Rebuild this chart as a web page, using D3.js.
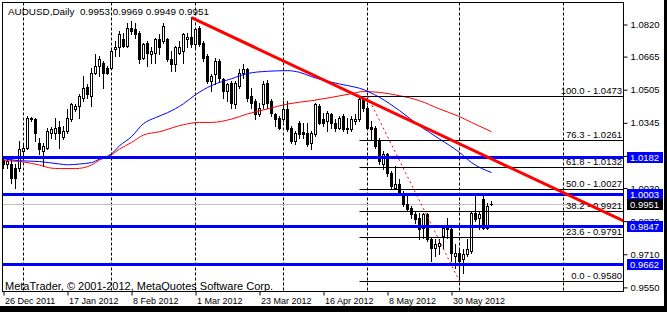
<!DOCTYPE html>
<html>
<head>
<meta charset="utf-8">
<script src="https://cdn.jsdelivr.net/npm/d3@7"></script>
<style>
  html, body { margin: 0; padding: 0; background: #fff; }
  svg { display: block; font-family: "Liberation Sans", Arial, sans-serif; }
</style>
</head>
<body>
<div id="chart"></div>
<script>
// AUDUSD daily bars, 26 Dec 2011 .. 13 Jun 2012 (bar index 0..122)
const opens = [
  1.0166, 1.0147, 1.0147, 1.0128, 1.0128, 1.0210, 1.0225, 1.0365, 1.0365, 1.0249,
  1.0210, 1.0225, 1.0297, 1.0297, 1.0326, 1.0278, 1.0307, 1.0365, 1.0413, 1.0428,
  1.0467, 1.0520, 1.0476, 1.0588, 1.0621, 1.0636, 1.0612, 1.0612, 1.0704, 1.0709,
  1.0752, 1.0718, 1.0805, 1.0800, 1.0781, 1.0660, 1.0733, 1.0679, 1.0684, 1.0752,
  1.0742, 1.0752, 1.0655, 1.0631, 1.0684, 1.0694, 1.0752, 1.0762, 1.0728, 1.0805,
  1.0733, 1.0670, 1.0549, 1.0583, 1.0646, 1.0558, 1.0500, 1.0539, 1.0437, 1.0525,
  1.0588, 1.0607, 1.0476, 1.0452, 1.0389, 1.0437, 1.0539, 1.0452, 1.0389, 1.0370,
  1.0365, 1.0413, 1.0321, 1.0258, 1.0346, 1.0302, 1.0297, 1.0249, 1.0292, 1.0428,
  1.0365, 1.0355, 1.0389, 1.0346, 1.0321, 1.0379, 1.0321, 1.0316, 1.0355, 1.0365,
  1.0462, 1.0418, 1.0326, 1.0321, 1.0258, 1.0147, 1.0195, 1.0104, 1.0031, 1.0050,
  1.0002, 0.9954, 0.9934, 0.9905, 0.9886, 0.9837, 0.9905, 0.9784, 0.9741, 0.9750,
  0.9799, 0.9837, 0.9833, 0.9702, 0.9716, 0.9687, 0.9712, 0.9726, 0.9910, 0.9886,
  0.9978, 0.9837, 0.9953
];
const highs = [
  1.0176, 1.0171, 1.0186, 1.0147, 1.0258, 1.0249, 1.0379, 1.0375, 1.0370, 1.0273,
  1.0249, 1.0321, 1.0326, 1.0370, 1.0355, 1.0331, 1.0413, 1.0442, 1.0437, 1.0486,
  1.0573, 1.0534, 1.0612, 1.0679, 1.0670, 1.0646, 1.0621, 1.0704, 1.0742, 1.0791,
  1.0781, 1.0825, 1.0839, 1.0825, 1.0791, 1.0733, 1.0742, 1.0709, 1.0757, 1.0776,
  1.0825, 1.0757, 1.0694, 1.0718, 1.0742, 1.0781, 1.0781, 1.0854, 1.0805, 1.0815,
  1.0742, 1.0679, 1.0583, 1.0660, 1.0655, 1.0563, 1.0539, 1.0549, 1.0549, 1.0607,
  1.0631, 1.0612, 1.0515, 1.0462, 1.0442, 1.0549, 1.0554, 1.0462, 1.0394, 1.0379,
  1.0452, 1.0452, 1.0331, 1.0307, 1.0355, 1.0346, 1.0346, 1.0307, 1.0442, 1.0437,
  1.0394, 1.0404, 1.0394, 1.0365, 1.0379, 1.0389, 1.0370, 1.0379, 1.0389, 1.0476,
  1.0467, 1.0428, 1.0355, 1.0331, 1.0273, 1.0210, 1.0200, 1.0113, 1.0137, 1.0074,
  1.0016, 1.0002, 0.9944, 0.9920, 0.9910, 0.9910, 0.9910, 0.9789, 0.9784, 0.9784,
  0.9847, 0.9886, 0.9837, 0.9760, 0.9736, 0.9736, 0.9784, 0.9920, 1.0002, 0.9920,
  0.9992, 0.9958, 0.9969
];
const lows = [
  1.0128, 1.0128, 1.0055, 1.0031, 1.0113, 1.0176, 1.0220, 1.0355, 1.0258, 1.0195,
  1.0137, 1.0220, 1.0273, 1.0268, 1.0225, 1.0268, 1.0297, 1.0355, 1.0404, 1.0370,
  1.0452, 1.0467, 1.0428, 1.0583, 1.0573, 1.0515, 1.0583, 1.0608, 1.0670, 1.0670,
  1.0709, 1.0709, 1.0776, 1.0757, 1.0636, 1.0655, 1.0621, 1.0636, 1.0636, 1.0679,
  1.0733, 1.0646, 1.0597, 1.0597, 1.0679, 1.0636, 1.0709, 1.0709, 1.0709, 1.0718,
  1.0646, 1.0539, 1.0500, 1.0534, 1.0549, 1.0467, 1.0452, 1.0418, 1.0418, 1.0515,
  1.0563, 1.0452, 1.0418, 1.0365, 1.0379, 1.0418, 1.0418, 1.0379, 1.0331, 1.0316,
  1.0355, 1.0307, 1.0249, 1.0244, 1.0273, 1.0273, 1.0234, 1.0220, 1.0283, 1.0341,
  1.0331, 1.0307, 1.0321, 1.0307, 1.0316, 1.0307, 1.0297, 1.0307, 1.0341, 1.0355,
  1.0404, 1.0316, 1.0268, 1.0225, 1.0147, 1.0123, 1.0089, 1.0031, 1.0026, 1.0002,
  0.9944, 0.9920, 0.9886, 0.9862, 0.9784, 0.9789, 0.9774, 0.9678, 0.9702, 0.9712,
  0.9741, 0.9789, 0.9678, 0.9644, 0.9580, 0.9620, 0.9702, 0.9716, 0.9871, 0.9833,
  0.9833, 0.9833, 0.9949
];
const closes = [
  1.0147, 1.0162, 1.0079, 1.0079, 1.0220, 1.0225, 1.0370, 1.0370, 1.0297, 1.0220,
  1.0234, 1.0307, 1.0316, 1.0321, 1.0297, 1.0307, 1.0370, 1.0437, 1.0428, 1.0476,
  1.0515, 1.0486, 1.0588, 1.0621, 1.0655, 1.0588, 1.0588, 1.0694, 1.0709, 1.0776,
  1.0718, 1.0805, 1.0791, 1.0776, 1.0655, 1.0728, 1.0684, 1.0694, 1.0752, 1.0709,
  1.0815, 1.0655, 1.0631, 1.0709, 1.0709, 1.0776, 1.0762, 1.0728, 1.0800, 1.0728,
  1.0660, 1.0549, 1.0573, 1.0646, 1.0563, 1.0500, 1.0534, 1.0442, 1.0539, 1.0588,
  1.0607, 1.0467, 1.0442, 1.0389, 1.0418, 1.0534, 1.0442, 1.0394, 1.0365, 1.0321,
  1.0413, 1.0316, 1.0258, 1.0297, 1.0292, 1.0292, 1.0244, 1.0297, 1.0437, 1.0346,
  1.0346, 1.0394, 1.0346, 1.0321, 1.0370, 1.0316, 1.0316, 1.0365, 1.0365, 1.0462,
  1.0418, 1.0321, 1.0316, 1.0234, 1.0162, 1.0195, 1.0104, 1.0041, 1.0050, 1.0007,
  0.9954, 0.9929, 0.9905, 0.9881, 0.9833, 0.9905, 0.9784, 0.9741, 0.9760, 0.9765,
  0.9837, 0.9833, 0.9716, 0.9716, 0.9678, 0.9712, 0.9736, 0.9910, 0.9881, 0.9905,
  0.9837, 0.9944, 0.9951
];

// moving averages (bar index, price)
const maBlueBars = [0, 4, 9, 14, 16, 19, 22, 24, 27, 29, 32, 35, 38, 41, 45, 48, 52, 57, 61, 66, 71, 74, 77, 82, 86, 89, 94, 99, 104, 109, 114, 117, 122];
const maBlueVals = [1.0171, 1.0162, 1.0158, 1.0146, 1.0142, 1.0146, 1.0153, 1.0170, 1.0195, 1.0234, 1.0278, 1.0341, 1.0370, 1.0394, 1.0437, 1.0481, 1.0525, 1.0558, 1.0583, 1.0594, 1.0597, 1.0589, 1.0568, 1.0541, 1.0525, 1.0512, 1.0468, 1.0404, 1.0331, 1.0267, 1.0202, 1.0153, 1.0105];
const maRedBars = [0, 4, 7, 9, 12, 14, 18, 22, 24, 27, 29, 32, 35, 39, 45, 49, 52, 57, 61, 66, 71, 77, 82, 87, 90, 94, 99, 104, 109, 114, 117, 122];
const maRedVals = [1.0162, 1.0158, 1.0149, 1.0141, 1.0126, 1.0124, 1.0124, 1.0141, 1.0165, 1.0191, 1.0218, 1.0250, 1.0286, 1.0302, 1.0336, 1.0347, 1.0347, 1.0363, 1.0388, 1.0412, 1.0436, 1.0452, 1.0468, 1.0486, 1.0496, 1.0492, 1.0476, 1.0452, 1.0412, 1.0375, 1.0347, 1.0302];

// axes
const priceTicks = ["1.0820", "1.0665", "1.0505", "1.0345", "1.0185", "1.0030", "0.9870", "0.9710", "0.9550"];
const dateTickBars = [0, 16, 32, 48, 64, 80, 96, 112];
const dateTickLabels = ["26 Dec 2011", "17 Jan 2012", "8 Feb 2012", "1 Mar 2012", "23 Mar 2012", "16 Apr 2012", "8 May 2012", "30 May 2012"];
const separatorBars = [5, 27, 48, 70, 91, 114, 140];

// drawn objects
const levelPrices = [1.0182, 1.0003, 0.9847, 0.9662];
const bidPrice = 0.9951;
const trendBars = [47, 90];
const trendPrices = [1.0853, 1.0462];
const fibBars = [91, 114];
const fibLeftBar = 89;
const fibLevels = ["100.0", "76.3", "61.8", "50.0", "38.2", "23.6", "0.0"];
const fibPrices = [1.0473, 1.0261, 1.0132, 1.0027, 0.9921, 0.9791, 0.9580];
const title = "AUDUSD,Daily  0.9953 0.9969 0.9949 0.9951";
const copyright = "MetaTrader, \u00a9 2001-2012, MetaQuotes Software Corp.";

const W = 667, H = 312;
const plot = { left: 2.5, top: 2.5, right: 623.5, bottom: 291.5 };

const svg = d3.select("#chart").append("svg")
    .attr("width", W)
    .attr("height", H);

svg.append("rect").attr("width", W).attr("height", H).attr("fill", "#fff");
// dark window edges
svg.append("rect").attr("x", 0).attr("y", 306).attr("width", W).attr("height", H - 306).attr("fill", "#000");
svg.append("rect").attr("x", 664).attr("y", 0).attr("width", W - 664).attr("height", H).attr("fill", "#000");

const x = d3.scaleLinear().domain([0, 155]).range([3.5, 623.5]);
const y = d3.scaleLinear().domain([0.95301, 1.09263]).range([plot.bottom, plot.top]);

svg.append("clipPath").attr("id", "clip")
    .append("rect")
    .attr("x", plot.left).attr("y", plot.top)
    .attr("width", plot.right - plot.left).attr("height", plot.bottom - plot.top);

const g = svg.append("g").attr("clip-path", "url(#clip)");

// period separators
g.selectAll(".sep")
    .data(separatorBars)
    .enter().append("line")
    .attr("x1", d => x(d)).attr("x2", d => x(d))
    .attr("y1", plot.top).attr("y2", plot.bottom)
    .attr("stroke", "#000")
    .attr("stroke-dasharray", "3,2");

// bid line
g.append("line")
    .attr("x1", plot.left).attr("x2", plot.right)
    .attr("y1", Math.round(y(bidPrice)) + 0.5).attr("y2", Math.round(y(bidPrice)) + 0.5)
    .attr("stroke", "#c0c0c0");

// candles
const bars = d3.range(closes.length).map(i => ({
    i, o: opens[i], h: highs[i], l: lows[i], c: closes[i]
}));

const candle = g.selectAll(".bar").data(bars).enter().append("g");

candle.append("rect")
    .attr("x", d => x(d.i) - 0.5)
    .attr("width", 1)
    .attr("y", d => Math.round(y(d.h)))
    .attr("height", d => Math.round(y(d.l)) - Math.round(y(d.h)) + 1)
    .attr("fill", "#000");

candle.filter(d => d.c < d.o).append("rect")
    .attr("x", d => x(d.i) - 1.5)
    .attr("width", 3)
    .attr("y", d => Math.round(y(d.o)))
    .attr("height", d => Math.max(1, Math.round(y(d.c)) - Math.round(y(d.o)) + 1))
    .attr("fill", "#000");

candle.filter(d => d.c >= d.o).append("rect")
    .attr("x", d => x(d.i) - 1)
    .attr("width", 2)
    .attr("y", d => Math.round(y(d.c)) + 0.5)
    .attr("height", d => Math.max(1, Math.round(y(d.o)) - Math.round(y(d.c))))
    .attr("fill", "#fff")
    .attr("stroke", "#000");

// moving averages
const maLine = d3.line()
    .x(d => x(d[0]))
    .y(d => y(d[1]))
    .curve(d3.curveMonotoneX);

g.append("path")
    .datum(d3.zip(maRedBars, maRedVals))
    .attr("fill", "none").attr("stroke", "#ff0000").attr("stroke-width", 1)
    .attr("d", maLine);

g.append("path")
    .datum(d3.zip(maBlueBars, maBlueVals))
    .attr("fill", "none").attr("stroke", "#0000ff").attr("stroke-width", 1)
    .attr("d", maLine);

// fibonacci retracement
g.selectAll(".fib")
    .data(fibPrices)
    .enter().append("line")
    .attr("x1", x(fibLeftBar)).attr("x2", plot.right)
    .attr("y1", d => Math.round(y(d)) + 0.5).attr("y2", d => Math.round(y(d)) + 0.5)
    .attr("stroke", "#000");

g.append("line")
    .attr("x1", x(fibBars[0])).attr("y1", y(fibPrices[0]))
    .attr("x2", x(fibBars[1])).attr("y2", y(fibPrices[fibPrices.length - 1]))
    .attr("stroke", "#ff0000")
    .attr("stroke-dasharray", "2,3");

g.selectAll(".fibtxt")
    .data(fibPrices)
    .enter().append("text")
    .attr("x", plot.right - 1.5)
    .attr("y", d => Math.round(y(d)) - 2)
    .attr("text-anchor", "end")
    .style("font-size", "9.5px")
    .attr("fill", "#000")
    .text((d, k) => `${fibLevels[k]} - ${d.toFixed(4)}`);

// horizontal levels
g.selectAll(".lvl")
    .data(levelPrices)
    .enter().append("line")
    .attr("x1", plot.left).attr("x2", plot.right)
    .attr("y1", d => Math.round(y(d)) + 0.5).attr("y2", d => Math.round(y(d)) + 0.5)
    .attr("stroke", "#0000ff")
    .attr("stroke-width", 3);

// trend line, extended to the right edge
const tx0 = x(trendBars[0]), ty0 = y(trendPrices[0]);
const tx1 = x(trendBars[1]), ty1 = y(trendPrices[1]);
const slope = (ty1 - ty0) / (tx1 - tx0);
g.append("line")
    .attr("x1", tx0).attr("y1", ty0)
    .attr("x2", plot.right).attr("y2", ty0 + slope * (plot.right - tx0))
    .attr("stroke", "#ff0000")
    .attr("stroke-width", 3);

// frame
svg.append("rect")
    .attr("x", plot.left).attr("y", plot.top)
    .attr("width", plot.right - plot.left).attr("height", plot.bottom - plot.top)
    .attr("fill", "none").attr("stroke", "#000");

// price axis
const yAxis = svg.append("g")
    .attr("transform", `translate(${plot.right},0)`)
    .call(d3.axisRight(y)
        .tickValues(priceTicks.map(Number))
        .tickFormat((d, k) => priceTicks[k])
        .tickSize(4)
        .tickPadding(3));
yAxis.select(".domain").remove();
yAxis.selectAll("text").style("font-size", "9.5px").attr("fill", "#000").style("font-family", "inherit");
yAxis.selectAll("line").attr("stroke", "#000");

// date axis
const xAxis = svg.append("g")
    .attr("transform", `translate(0,${plot.bottom})`)
    .call(d3.axisBottom(x)
        .tickValues(dateTickBars)
        .tickFormat((d, k) => dateTickLabels[k])
        .tickSize(4)
        .tickPadding(2));
xAxis.select(".domain").remove();
xAxis.selectAll("text")
    .attr("text-anchor", "start")
    .attr("dx", "1")
    .style("font-size", "9px")
    .style("font-family", "inherit")
    .attr("fill", "#000");
xAxis.selectAll("line").attr("stroke", "#000");

// price labels for levels and bid
const tags = levelPrices.map(p => ({ p, bg: "#0000ff" })).concat([{ p: bidPrice, bg: "#000" }]);
const tag = svg.selectAll(".tag").data(tags).enter().append("g")
    .attr("transform", d => `translate(627,${Math.round(y(d.p))})`);
tag.append("rect")
    .attr("x", 0).attr("y", -5)
    .attr("width", 36).attr("height", 11)
    .attr("fill", d => d.bg);
tag.append("text")
    .attr("x", 3).attr("y", 3.5)
    .style("font-size", "9.5px")
    .attr("fill", "#fff")
    .text(d => d.p.toFixed(4));

// texts
svg.append("text")
    .attr("x", 8).attr("y", 14.5)
    .style("font-size", "9.9px")
    .style("white-space", "pre")
    .attr("fill", "#000")
    .text(title);

svg.append("text")
    .attr("x", 5).attr("y", 290)
    .style("font-size", "11px")
    .attr("fill", "#000")
    .text(copyright);
</script>
</body>
</html>
